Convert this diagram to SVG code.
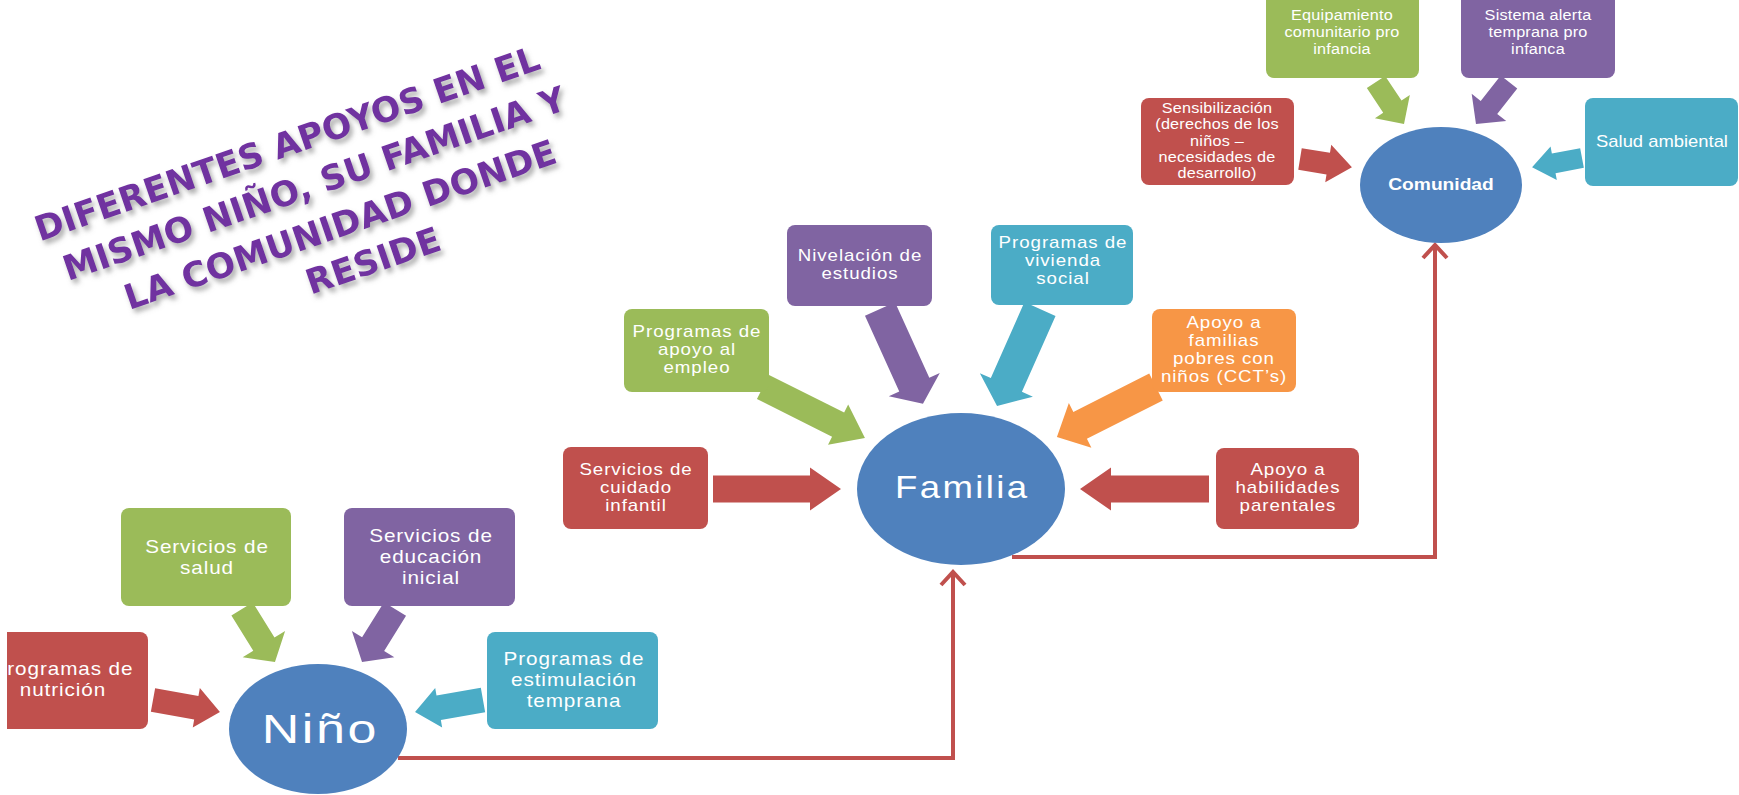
<svg xmlns="http://www.w3.org/2000/svg" width="1739" height="795" viewBox="0 0 1739 795">
<defs>
<style>
.red{fill:#C0504D}.green{fill:#9BBB59}.purple{fill:#8064A2}.cyan{fill:#4BACC6}.orange{fill:#F79646}
.circ{fill:#4F81BD}
.t{font-family:"Liberation Sans",Arial,sans-serif;fill:#fff;text-anchor:middle}
.n1{font-size:18px;letter-spacing:0.8px}
.n2{font-size:16px;letter-spacing:0.8px}
.n3{font-size:14.5px;letter-spacing:0.2px}
.title{font-family:"DejaVu Sans",Verdana,sans-serif;font-weight:bold;font-size:34.5px;fill:#7030A0;text-anchor:middle}
.conn{fill:none;stroke:#C0504D;stroke-width:4}
</style>
<filter id="sh" x="-10%" y="-30%" width="120%" height="160%">
<feDropShadow dx="3" dy="4" stdDeviation="2.5" flood-color="#777" flood-opacity="0.6"/>
</filter>
<marker id="chev" markerUnits="userSpaceOnUse" markerWidth="30" markerHeight="30" viewBox="0 0 30 30" refX="16" refY="15" orient="auto">
<path d="M3,3 L16,15 L3,27" fill="none" stroke="#C0504D" stroke-width="4"/>
</marker>
<clipPath id="clipNut"><rect x="7" y="632" width="141" height="97"/></clipPath>
</defs>

<g id="title" filter="url(#sh)">
<text class="title" transform="translate(291,155) rotate(-19)">DIFERENTES APOYOS EN EL</text>
<text class="title" transform="translate(318,195) rotate(-19)">MISMO NIÑO, SU FAMILIA Y</text>
<text class="title" transform="translate(344,236) rotate(-19)">LA COMUNIDAD DONDE</text>
<text class="title" transform="translate(377,272) rotate(-19)">RESIDE</text>
</g>

<g id="connectors">
<path class="conn" d="M398,758 H953 V572" marker-end="url(#chev)"/>
<path class="conn" d="M1012,557 H1435 V245" marker-end="url(#chev)"/>
<polygon class="red" transform="translate(153,700) rotate(10.2)" points="0,-12 44,-12 44,-20 68,0 44,20 44,12 0,12"/>
<polygon class="green" transform="translate(242,609) rotate(58.1)" points="0,-12.5 41.4,-12.5 41.4,-25 62.4,0 41.4,25 41.4,12.5 0,12.5"/>
<polygon class="purple" transform="translate(395,609) rotate(121.9)" points="0,-13 41.4,-13 41.4,-25 62.4,0 41.4,25 41.4,13 0,13"/>
<polygon class="cyan" transform="translate(483,700) rotate(170)" points="0,-12.5 45,-12.5 45,-20 69,0 45,20 45,12.5 0,12.5"/>
<polygon class="red" transform="translate(713,489)" points="0,-13.5 97,-13.5 97,-21.5 128,0 97,21.5 97,13.5 0,13.5"/>
<polygon class="red" transform="translate(1209,489) rotate(180)" points="0,-13.5 98,-13.5 98,-21.5 129,0 98,21.5 98,13.5 0,13.5"/>
<polygon class="green" transform="translate(763,387) rotate(26.6)" points="0,-13.5 84,-13.5 84,-22.5 114,0 84,22.5 84,13.5 0,13.5"/>
<polygon class="purple" transform="translate(880,309) rotate(65.6)" points="0,-16.5 83,-16.5 83,-28 104,0 83,28 83,16.5 0,16.5"/>
<polygon class="cyan" transform="translate(1040,309) rotate(113.9)" points="0,-17 83,-17 83,-29 106,0 83,29 83,17 0,17"/>
<polygon class="orange" transform="translate(1156,387) rotate(153.2)" points="0,-15 85,-15 85,-25 111,0 85,25 85,15 0,15"/>
<polygon class="green" transform="translate(1376,82) rotate(56.3)" points="0,-11 29.5,-11 29.5,-21 50.5,0 29.5,21 29.5,11 0,11"/>
<polygon class="purple" transform="translate(1509,82) rotate(128.2)" points="0,-10.5 32.4,-10.5 32.4,-22 53.4,0 32.4,22 32.4,10.5 0,10.5"/>
<polygon class="red" transform="translate(1300,159) rotate(9.1)" points="0,-11 28.6,-11 28.6,-19 52.6,0 28.6,19 28.6,11 0,11"/>
<polygon class="cyan" transform="translate(1582,158) rotate(169.4)" points="0,-10 28.8,-10 28.8,-17 50.8,0 28.8,17 28.8,10 0,10"/>
</g>

<g id="nino">
<ellipse class="circ" cx="318" cy="729" rx="89" ry="65"/>
<text class="t" transform="translate(319,0) scale(1.3,1)" x="1" y="743" style="font-size:40px;letter-spacing:2px">Niño</text>
</g>
<g id="familia">
<ellipse class="circ" cx="961" cy="489" rx="104" ry="76"/>
<text class="t" transform="translate(961,0) scale(1.18,1)" x="1" y="498" style="font-size:31px;letter-spacing:2px">Familia</text>
</g>
<g id="comunidad">
<ellipse class="circ" cx="1441" cy="185" rx="81" ry="58"/>
<text class="t" transform="translate(1441,0) scale(1.2,1)" x="0" y="190" style="font-size:16px;font-weight:bold">Comunidad</text>
</g>

<g id="nutricion">
<path class="red" d="M7,632 H140 A8,8 0 0 1 148,640 V721 A8,8 0 0 1 140,729 H7 Z"/>
<g clip-path="url(#clipNut)">
<text class="t n1" transform="translate(63,0) scale(1.15,1)"><tspan x="0" y="675">Programas de</tspan><tspan x="0" y="696">nutrición</tspan></text>
</g>
</g>
<g id="salud">
<rect class="green" x="121" y="508" width="170" height="98" rx="8"/>
<text class="t n1" transform="translate(207,0) scale(1.15,1)"><tspan x="0" y="553">Servicios de</tspan><tspan x="0" y="574">salud</tspan></text>
</g>
<g id="educacion">
<rect class="purple" x="344" y="508" width="171" height="98" rx="8"/>
<text class="t n1" transform="translate(431,0) scale(1.15,1)"><tspan x="0" y="542">Servicios de</tspan><tspan x="0" y="563">educación</tspan><tspan x="0" y="584">inicial</tspan></text>
</g>
<g id="estimulacion">
<rect class="cyan" x="487" y="632" width="171" height="97" rx="8"/>
<text class="t n1" transform="translate(574,0) scale(1.15,1)"><tspan x="0" y="665">Programas de</tspan><tspan x="0" y="686">estimulación</tspan><tspan x="0" y="707">temprana</tspan></text>
</g>

<g id="cuidado">
<rect class="red" x="563" y="447" width="145" height="82" rx="8"/>
<text class="t n2" transform="translate(636,0) scale(1.17,1)"><tspan x="0" y="475">Servicios de</tspan><tspan x="0" y="493">cuidado</tspan><tspan x="0" y="511">infantil</tspan></text>
</g>
<g id="empleo">
<rect class="green" x="624" y="309" width="145" height="83" rx="8"/>
<text class="t n2" transform="translate(697,0) scale(1.17,1)"><tspan x="0" y="337">Programas de</tspan><tspan x="0" y="355">apoyo al</tspan><tspan x="0" y="373">empleo</tspan></text>
</g>
<g id="nivelacion">
<rect class="purple" x="787" y="225" width="145" height="81" rx="8"/>
<text class="t n2" transform="translate(860,0) scale(1.17,1)"><tspan x="0" y="261">Nivelación de</tspan><tspan x="0" y="279">estudios</tspan></text>
</g>
<g id="vivienda">
<rect class="cyan" x="991" y="225" width="142" height="80" rx="8"/>
<text class="t n2" transform="translate(1063,0) scale(1.17,1)"><tspan x="0" y="248">Programas de</tspan><tspan x="0" y="266">vivienda</tspan><tspan x="0" y="284">social</tspan></text>
</g>
<g id="cct">
<rect class="orange" x="1152" y="309" width="144" height="83" rx="8"/>
<text class="t n2" transform="translate(1224,0) scale(1.17,1)"><tspan x="0" y="328">Apoyo a</tspan><tspan x="0" y="346">familias</tspan><tspan x="0" y="364">pobres con</tspan><tspan x="0" y="382">niños (CCT’s)</tspan></text>
</g>
<g id="habilidades">
<rect class="red" x="1216" y="448" width="143" height="81" rx="8"/>
<text class="t n2" transform="translate(1288,0) scale(1.17,1)"><tspan x="0" y="475">Apoyo a</tspan><tspan x="0" y="493">habilidades</tspan><tspan x="0" y="511">parentales</tspan></text>
</g>

<g id="sensibilizacion">
<rect class="red" x="1141" y="98" width="153" height="87" rx="8"/>
<text class="t n3" transform="translate(1217,0) scale(1.12,1)"><tspan x="0" y="113">Sensibilización</tspan><tspan x="0" y="129.3">(derechos de los</tspan><tspan x="0" y="145.6">niños –</tspan><tspan x="0" y="161.9">necesidades de</tspan><tspan x="0" y="178.2">desarrollo)</tspan></text>
</g>
<g id="equipamiento">
<rect class="green" x="1266" y="-10" width="153" height="88" rx="8"/>
<text class="t n3" transform="translate(1342,0) scale(1.12,1)"><tspan x="0" y="20">Equipamiento</tspan><tspan x="0" y="37">comunitario pro</tspan><tspan x="0" y="54">infancia</tspan></text>
</g>
<g id="sistema">
<rect class="purple" x="1461" y="-10" width="154" height="88" rx="8"/>
<text class="t n3" transform="translate(1538,0) scale(1.12,1)"><tspan x="0" y="20">Sistema alerta</tspan><tspan x="0" y="37">temprana pro</tspan><tspan x="0" y="54">infanca</tspan></text>
</g>
<g id="saludambiental">
<rect class="cyan" x="1585" y="98" width="153" height="88" rx="8"/>
<text class="t" transform="translate(1662,0) scale(1.15,1)" x="0" y="147" style="font-size:16px">Salud ambiental</text>
</g>
</svg>
